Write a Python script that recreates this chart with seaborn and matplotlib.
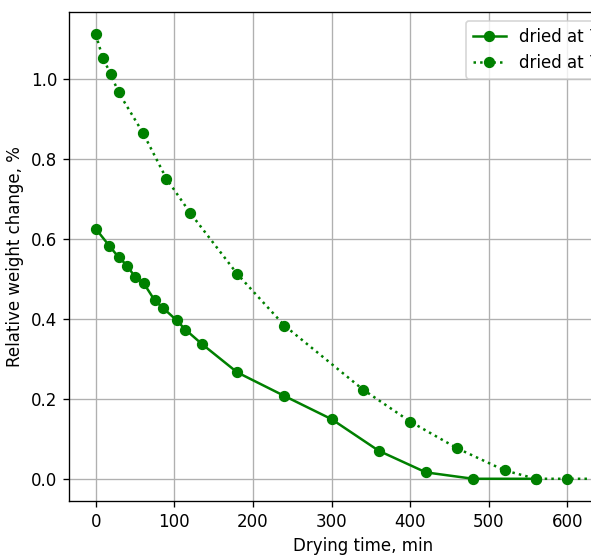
import pandas as pd
import matplotlib.pyplot as plt
import numpy as np
import seaborn as sns

# drying curves
time_a = [0, 17, 29, 40, 50, 61, 75, 85, 103, 114, 135, 180, 240, 300, 360, 420, 480, 560]
weight_a = [0.625, 0.583, 0.554, 0.533, 0.504, 0.489, 0.446, 0.428, 0.396, 0.373, 0.337,
            0.266, 0.207, 0.149, 0.070, 0.016, 0.0, 0.0]

time_b = [0, 9, 19, 29, 60, 90, 120, 180, 240, 340, 400, 460, 520, 560, 600, 680]
weight_b = [1.111, 1.052, 1.012, 0.966, 0.865, 0.75, 0.665, 0.512, 0.383, 0.223, 0.143,
            0.076, 0.021, 0.0, 0.0, 0.0]

label_a = 'dried at 70 °C'
label_b = 'dried at 75 °C'


def buildFrame():
    dfA = pd.DataFrame({'time': time_a, 'weight': weight_a, 'series': label_a})
    dfB = pd.DataFrame({'time': time_b, 'weight': weight_b, 'series': label_b})
    return pd.concat([dfA, dfB], ignore_index=True)


df = buildFrame()

DPI = 120
fig = plt.figure(figsize=(591 / DPI, 560 / DPI), dpi=DPI)
# axes run past the right edge, like the cropped original
ax = fig.add_axes([69 / 591, 59 / 560, 0.995, 0.873])

sns.lineplot(data=df, x='time', y='weight', style='series',
             markers={label_a: 'o', label_b: 'o'},
             dashes={label_a: '', label_b: (1, 1.65)},
             color='green', markeredgecolor='green', markersize=6,
             linewidth=1.5, ax=ax, legend=True)

ax.grid(True, color='#b0b0b0', linewidth=0.8)
ax.set_axisbelow(True)
ax.set_xticks([0, 100, 200, 300, 400, 500, 600])
ax.set_xlabel('Drying time, min')
ax.set_ylabel('Relative weight change, %')

leg = ax.legend(loc='upper left', bbox_to_anchor=(466 / 591, 1 - 21 / 560),
                bbox_transform=fig.transFigure, borderaxespad=0, title=None)

plt.savefig('out.png', dpi=DPI)
